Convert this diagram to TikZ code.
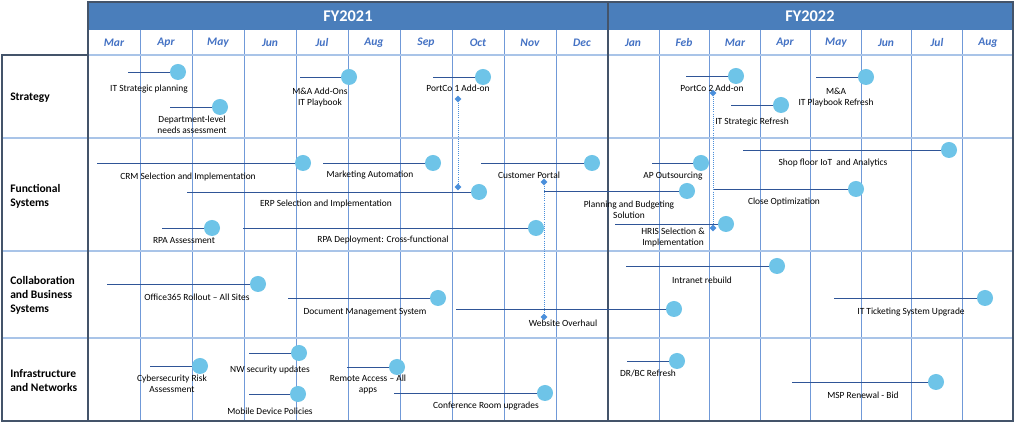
\documentclass[tikz,border=0pt]{standalone}
\usepackage{fontspec}
\setmainfont{Carlito}
\usetikzlibrary{positioning,shapes.geometric}

\definecolor{hdrblue}{HTML}{4A7EBB}
\definecolor{framegray}{HTML}{44546A}
\definecolor{gridblue}{HTML}{7099D8}
\definecolor{rowblue}{HTML}{A9C4E8}
\definecolor{monthblue}{HTML}{4472C4}
\definecolor{dotblue}{HTML}{6EC4E8}
\definecolor{barblue}{HTML}{2F5597}
\definecolor{linkblue}{HTML}{4A8FDB}

\begin{document}
\begin{tikzpicture}[
    x=0.025cm, y=-0.025cm,
    % Milestone styles
    milestone/.style={circle, fill=dotblue, minimum size=0.4cm, inner sep=0pt},
    bar/.style={barblue, line width=0.6pt},
    task/.style={font=\fontsize{6.7}{7.8}\selectfont, align=center, inner sep=0pt},
    % Dependency markers
    linkmark/.style={diamond, fill=linkblue, minimum size=0.17cm, inner sep=0pt},
    linkline/.style={linkblue, densely dotted, line width=0.5pt},
    % Grid and header styles
    rowlabel/.style={font=\fontsize{8.2}{10}\selectfont\bfseries, align=left, anchor=west, inner sep=0pt},
    month/.style={font=\fontsize{8.2}{10}\selectfont\bfseries\itshape, text=monthblue, inner sep=0pt},
    fyear/.style={font=\fontsize{11.6}{14}\selectfont\bfseries, text=white, inner sep=0pt},
    gridline/.style={gridblue, line width=0.6pt},
    rowsep/.style={rowblue, line width=1.2pt},
    frameline/.style={framegray, line width=2pt}
]

% Canvas
\useasboundingbox[fill=white] (0,0) rectangle (1015,425);

% Header bar
\fill[hdrblue] (88,2) rectangle (1013,30);
\node[fyear] (fy21) at (348,16) {FY2021};
\node[fyear] (fy22) at (810,16) {FY2022};

% Month grid
\draw[gridline] (140,30) -- (140,421);
\draw[gridline] (192,30) -- (192,421);
\draw[gridline] (244,30) -- (244,421);
\draw[gridline] (296,30) -- (296,421);
\draw[gridline] (348,30) -- (348,421);
\draw[gridline] (400,30) -- (400,421);
\draw[gridline] (452,30) -- (452,421);
\draw[gridline] (504,30) -- (504,421);
\draw[gridline] (556,30) -- (556,421);
\draw[gridline] (659,30) -- (659,421);
\draw[gridline] (709,30) -- (709,421);
\draw[gridline] (760,30) -- (760,421);
\draw[gridline] (810,30) -- (810,421);
\draw[gridline] (861,30) -- (861,421);
\draw[gridline] (911,30) -- (911,421);
\draw[gridline] (962,30) -- (962,421);

% Month names
\node[month] (m1) at (114,43) {Mar};
\node[month] (m2) at (166,43) {Apr};
\node[month] (m3) at (218,43) {May};
\node[month] (m4) at (270,43) {Jun};
\node[month] (m5) at (322,43) {Jul};
\node[month] (m6) at (374,43) {Aug};
\node[month] (m7) at (426,43) {Sep};
\node[month] (m8) at (478,43) {Oct};
\node[month] (m9) at (530,43) {Nov};
\node[month] (m10) at (582,43) {Dec};
\node[month] (m11) at (633,43) {Jan};
\node[month] (m12) at (684,43) {Feb};
\node[month] (m13) at (735,43) {Mar};
\node[month] (m14) at (785,43) {Apr};
\node[month] (m15) at (836,43) {May};
\node[month] (m16) at (886,43) {Jun};
\node[month] (m17) at (937,43) {Jul};
\node[month] (m18) at (988,43) {Aug};

% Row separators
\draw[rowsep] (88,55) -- (1013,55);
\draw[rowsep] (2,138) -- (1013,138);
\draw[rowsep] (2,251) -- (1013,251);
\draw[rowsep] (2,338) -- (1013,338);

% Frame
\draw[frameline] (88,2) rectangle (1013,421);
\draw[frameline] (2,55) rectangle (88,421);
\draw[frameline] (608,2) -- (608,421);

% Row labels
\node[rowlabel] (strategy) at (10,98) {Strategy};
\node[rowlabel] (functional) at (10,196) {Functional\\Systems};
\node[rowlabel] (collab) at (10,295) {Collaboration\\and Business\\Systems};
\node[rowlabel] (infra) at (10,381) {Infrastructure\\and Networks};

% Strategy
\coordinate (itplan-s) at (128,72);
\node[milestone] (itplan) at (178,72) {};
\draw[bar] (itplan-s) -- (itplan);
\node[task] (itplan-t) at (149,89) {IT Strategic planning};

\coordinate (deptneeds-s) at (170,107);
\node[milestone] (deptneeds) at (220,107) {};
\draw[bar] (deptneeds-s) -- (deptneeds);
\node[task] (deptneeds-t) at (192,124.5) {Department-level\\needs assessment};

\coordinate (maaddon-s) at (300,77);
\node[milestone] (maaddon) at (349,77) {};
\draw[bar] (maaddon-s) -- (maaddon);
\node[task] (maaddon-t) at (320,97.5) {M\&A Add-Ons\\IT Playbook};

\coordinate (portco1-s) at (433,77);
\node[milestone] (portco1) at (483,77) {};
\draw[bar] (portco1-s) -- (portco1);
\node[task] (portco1-t) at (458,88) {PortCo 1 Add-on};

\coordinate (portco2-s) at (686,76);
\node[milestone] (portco2) at (736,76) {};
\draw[bar] (portco2-s) -- (portco2);
\node[task] (portco2-t) at (712,88) {PortCo 2 Add-on};

\coordinate (marefresh-s) at (816,77);
\node[milestone] (marefresh) at (866,77) {};
\draw[bar] (marefresh-s) -- (marefresh);
\node[task] (marefresh-t) at (836,98) {M\&A\\IT Playbook Refresh};

\coordinate (itrefresh-s) at (731,105);
\node[milestone] (itrefresh) at (781,105) {};
\draw[bar] (itrefresh-s) -- (itrefresh);
\node[task] (itrefresh-t) at (752,122) {IT Strategic Refresh};

% Functional Systems
\coordinate (crm-s) at (97,163);
\node[milestone] (crm) at (303,163) {};
\draw[bar] (crm-s) -- (crm);
\node[task] (crm-t) at (188,177) {CRM Selection and Implementation};

\coordinate (mktauto-s) at (323,163);
\node[milestone] (mktauto) at (433,163) {};
\draw[bar] (mktauto-s) -- (mktauto);
\node[task] (mktauto-t) at (370,175) {Marketing Automation};

\coordinate (custportal-s) at (481,163);
\node[milestone] (custportal) at (592,163) {};
\draw[bar] (custportal-s) -- (custportal);
\node[task] (custportal-t) at (529,175) {Customer Portal};

\coordinate (erp-s) at (187,192);
\node[milestone] (erp) at (479,192) {};
\draw[bar] (erp-s) -- (erp);
\node[task] (erp-t) at (326,204) {ERP Selection and Implementation};

\coordinate (planbudget-s) at (544,191);
\node[milestone] (planbudget) at (687,191) {};
\draw[bar] (planbudget-s) -- (planbudget);
\node[task] (planbudget-t) at (629,210) {Planning and Budgeting\\Solution};

\coordinate (rpaassess-s) at (162,228);
\node[milestone] (rpaassess) at (212,228) {};
\draw[bar] (rpaassess-s) -- (rpaassess);
\node[task] (rpaassess-t) at (184,241) {RPA Assessment};

\coordinate (rpadeploy-s) at (243,228);
\node[milestone] (rpadeploy) at (536,228) {};
\draw[bar] (rpadeploy-s) -- (rpadeploy);
\node[task] (rpadeploy-t) at (383,240) {RPA Deployment: Cross-functional};

\coordinate (apout-s) at (652,163);
\node[milestone] (apout) at (701,163) {};
\draw[bar] (apout-s) -- (apout);
\node[task] (apout-t) at (673,176) {AP Outsourcing};

\coordinate (shopfloor-s) at (743,150);
\node[milestone] (shopfloor) at (949,150) {};
\draw[bar] (shopfloor-s) -- (shopfloor);
\node[task] (shopfloor-t) at (833,163) {Shop floor IoT\ \ and Analytics};

\coordinate (closeopt-s) at (713,189);
\node[milestone] (closeopt) at (856,189) {};
\draw[bar] (closeopt-s) -- (closeopt);
\node[task] (closeopt-t) at (784,202) {Close Optimization};

\coordinate (hris-s) at (615,224);
\node[milestone] (hris) at (726,224) {};
\draw[bar] (hris-s) -- (hris);
\node[task] (hris-t) at (673,237.5) {HRIS Selection \&\\Implementation};

% Collaboration and Business Systems
\coordinate (o365-s) at (107,284);
\node[milestone] (o365) at (258,284) {};
\draw[bar] (o365-s) -- (o365);
\node[task] (o365-t) at (197,297) {Office365 Rollout – All Sites};

\coordinate (docmgmt-s) at (288,298);
\node[milestone] (docmgmt) at (438,298) {};
\draw[bar] (docmgmt-s) -- (docmgmt);
\node[task] (docmgmt-t) at (365,312) {Document Management System};

\coordinate (website-s) at (456,309);
\node[milestone] (website) at (674,309) {};
\draw[bar] (website-s) -- (website);
\node[task] (website-t) at (563,323) {Website Overhaul};

\coordinate (intranet-s) at (626,266);
\node[milestone] (intranet) at (777,266) {};
\draw[bar] (intranet-s) -- (intranet);
\node[task] (intranet-t) at (702,280) {Intranet rebuild};

\coordinate (ticketing-s) at (834,298);
\node[milestone] (ticketing) at (985,298) {};
\draw[bar] (ticketing-s) -- (ticketing);
\node[task] (ticketing-t) at (911,312) {IT Ticketing System Upgrade};

% Infrastructure and Networks
\coordinate (cyberrisk-s) at (150,366);
\node[milestone] (cyberrisk) at (200,366) {};
\draw[bar] (cyberrisk-s) -- (cyberrisk);
\node[task] (cyberrisk-t) at (172,383.5) {Cybersecurity Risk\\Assessment};

\coordinate (nwsec-s) at (249,353);
\node[milestone] (nwsec) at (299,353) {};
\draw[bar] (nwsec-s) -- (nwsec);
\node[task] (nwsec-t) at (270,370) {NW security updates};

\coordinate (mobile-s) at (249,394);
\node[milestone] (mobile) at (298,394) {};
\draw[bar] (mobile-s) -- (mobile);
\node[task] (mobile-t) at (270,411) {Mobile Device Policies};

\coordinate (remote-s) at (347,367);
\node[milestone] (remote) at (397,367) {};
\draw[bar] (remote-s) -- (remote);
\node[task] (remote-t) at (368,384.5) {Remote Access – All\\apps};

\coordinate (confroom-s) at (394,393);
\node[milestone] (confroom) at (545,393) {};
\draw[bar] (confroom-s) -- (confroom);
\node[task] (confroom-t) at (486,406) {Conference Room upgrades};

\coordinate (drbc-s) at (627,361);
\node[milestone] (drbc) at (677,361) {};
\draw[bar] (drbc-s) -- (drbc);
\node[task] (drbc-t) at (648,373) {DR/BC Refresh};

\coordinate (msp-s) at (792,382);
\node[milestone] (msp) at (936,382) {};
\draw[bar] (msp-s) -- (msp);
\node[task] (msp-t) at (863,395) {MSP Renewal - Bid};

% Dependencies
\node[linkmark] (dep1a) at (458,99) {};
\node[linkmark] (dep1b) at (458,187) {};
\draw[linkline] (dep1a) -- (dep1b);

\node[linkmark] (dep2a) at (544,182) {};
\node[linkmark] (dep2b) at (544,317) {};
\draw[linkline] (dep2a) -- (dep2b);

\node[linkmark] (dep3a) at (713,93) {};
\node[linkmark] (dep3b) at (713,228) {};
\draw[linkline] (dep3a) -- (dep3b);

\end{tikzpicture}
\end{document}
